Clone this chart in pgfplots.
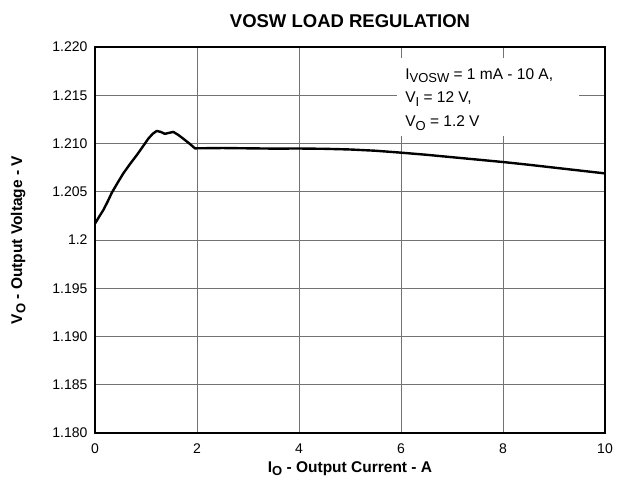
\documentclass[border=0pt]{standalone}
\usepackage{fontspec}
\setmainfont{Liberation Sans}
\usepackage{pgfplots}
\pgfplotsset{compat=1.18}
\newcommand\sub[1]{\raisebox{-0.4ex}{\fontsize{13}{13}\selectfont #1}}
\newcommand\bsub[1]{\raisebox{-0.4ex}{\fontsize{13}{13}\selectfont\bfseries #1}}
\begin{document}
\begin{tikzpicture}
\begin{axis}[
  scale only axis, width=510pt, height=386pt,
  xmin=0, xmax=10, ymin=1.180, ymax=1.220,
  xtick={0,2,4,6,8,10}, xticklabels={0,2,4,6,8,10},
  ytick={1.180,1.185,1.190,1.195,1.200,1.205,1.210,1.215,1.220},
  yticklabels={1.180,1.185,1.190,1.195,1.2,1.205,1.210,1.215,1.220},
  major tick length=0pt,
  tick label style={font=\fontsize{14}{15}\selectfont},
  xticklabel style={yshift=-7pt},
  yticklabel style={xshift=-4pt},
  grid=major,
  major grid style={black!55, line width=0.9pt},
  axis line style={line width=2.4pt},
  title={\fontsize{18.5}{20}\selectfont\bfseries VOSW LOAD REGULATION},
  title style={yshift=10pt},
  xlabel={\fontsize{15.5}{16}\selectfont\bfseries I\bsub{O} - Output Current - A},
  ylabel={\fontsize{15.5}{16}\selectfont\bfseries V\bsub{O} - Output Voltage - V},
  xlabel style={yshift=-1pt},
  ylabel style={yshift=20pt},
]
\fill[white] (axis cs:5.92,1.21078) rectangle (axis cs:9.49,1.21886);
\node[anchor=base west, font=\fontsize{15.5}{16}\selectfont, inner sep=0pt] at (axis cs:6.08,1.21668) {I\sub{VOSW} = 1 mA - 10 A,};
\node[anchor=base west, font=\fontsize{15.5}{16}\selectfont, inner sep=0pt] at (axis cs:6.08,1.21420) {V\sub{I} = 12 V,};
\node[anchor=base west, font=\fontsize{15.5}{16}\selectfont, inner sep=0pt] at (axis cs:6.08,1.21171) {V\sub{O} = 1.2 V};
\addplot[black, line width=2.4pt, line join=round] coordinates {
(0,1.2017) (0.08,1.2024) (0.163,1.2031) (0.25,1.2040) (0.33,1.2049) (0.44,1.2059) (0.555,1.2069)
(0.69,1.2079) (0.82,1.2088) (0.94,1.2097) (1.045,1.2105) (1.13,1.2110) (1.21,1.2113)
(1.29,1.2112) (1.37,1.2110) (1.45,1.2111) (1.535,1.2112) (1.63,1.2109) (1.73,1.2105)
(1.85,1.2100) (1.96,1.2095) (2.5,1.20953) (3,1.20950) (3.5,1.20947) (4,1.20948)
(4.5,1.20945) (5,1.20938) (5.5,1.20925) (6,1.20905) (6.5,1.20883) (7,1.20858) (7.5,1.20833)
(8,1.20808) (8.5,1.20780) (9,1.20750) (9.5,1.20720) (10,1.20690)
};
\end{axis}
\pgfresetboundingbox
\path[use as bounding box] (-95pt,-48pt) rectangle (526pt,433pt);
\end{tikzpicture}
\end{document}
